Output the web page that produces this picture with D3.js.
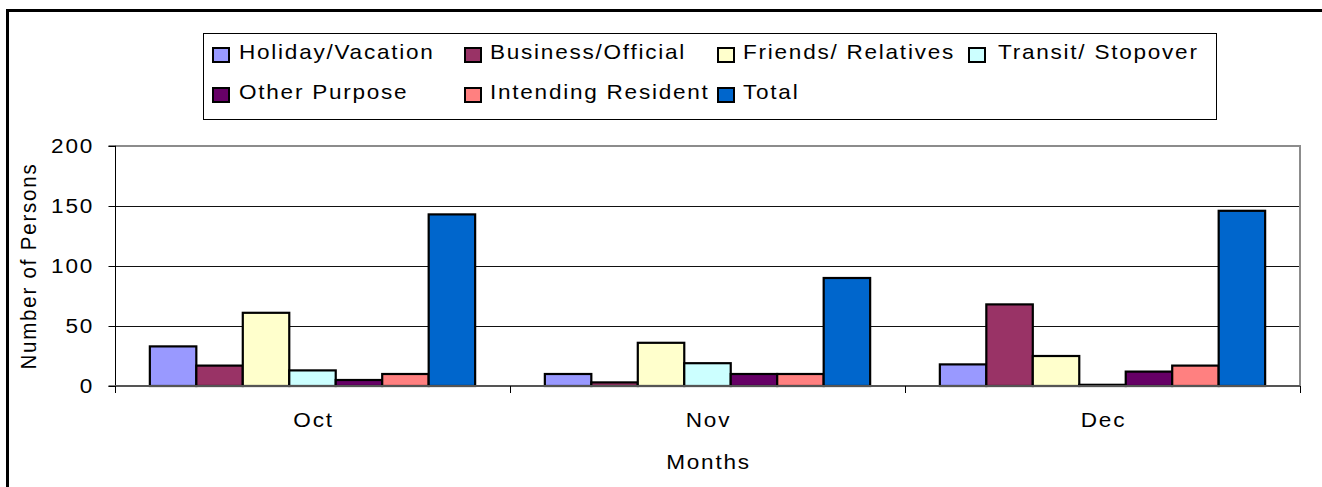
<!DOCTYPE html>
<html>
<head>
<meta charset="utf-8">
<script src="https://cdn.jsdelivr.net/npm/d3@7/dist/d3.min.js"></script>
<style>
  html, body { margin: 0; padding: 0; background: #fff; }
  svg { display: block; }
  text { font-family: "Liberation Sans", Arial, sans-serif; fill: #000; }
</style>
</head>
<body>
<svg id="chart" width="1322" height="487"></svg>
<script>
// ---- data ----
const months = ["Oct", "Nov", "Dec"];
const seriesNames = ["Holiday/Vacation", "Business/Official", "Friends/ Relatives", "Transit/ Stopover", "Other Purpose", "Intending Resident", "Total"];
const holiday   = [33, 10, 18];
const business  = [17, 3, 68];
const friends   = [61, 36, 25];
const transit   = [13, 19, 1];
const other     = [5, 10, 12];
const intending = [10, 10, 17];
const total     = [143, 90, 146];
const yTicks = [0, 50, 100, 150, 200];
const seriesColors = ["#9999FF", "#993366", "#FFFFCC", "#CCFFFF", "#660066", "#FF8080", "#0066CC"];

const seriesValues = [holiday, business, friends, transit, other, intending, total];

// ---- layout ----
const svg = d3.select("#chart");
const plot = { left: 115, right: 1300, top: 146, bottom: 386 };
const FS = 20.5, SX = 1.1, LS = 1.6;

function txt(g, s, x, y, anchor) {
  return g.append("text")
    .attr("transform", `translate(${x},${y}) scale(${SX},1)`)
    .attr("font-size", FS)
    .attr("letter-spacing", LS)
    .attr("text-anchor", anchor || "start")
    .text(s);
}

// outer frame
svg.append("rect")
  .attr("x", 7.5).attr("y", 10.5)
  .attr("width", 1400).attr("height", 600)
  .attr("fill", "none").attr("stroke", "#000").attr("stroke-width", 3);

const x0 = d3.scaleBand().domain(months).range([plot.left, plot.right]).paddingInner(0).paddingOuter(0);
const x1 = d3.scaleBand().domain(seriesNames).range([0, x0.bandwidth()]).paddingInner(0).paddingOuter(0.75);
const y = d3.scaleLinear().domain([0, 200]).range([plot.bottom, plot.top]);

// gridlines
svg.append("g").selectAll("line").data(yTicks.filter(d => d > 0 && d < 200)).join("line")
  .attr("x1", plot.left).attr("x2", plot.right)
  .attr("y1", d => y(d) + 0.5).attr("y2", d => y(d) + 0.5)
  .attr("stroke", "#111").attr("stroke-width", 1);

// plot area border (gray) top & right
svg.append("path")
  .attr("d", `M${plot.left},${y(200)}H${plot.right}V${plot.bottom}`)
  .attr("fill", "none").attr("stroke", "#8c8c8c").attr("stroke-width", 2);

// bars
const gBars = svg.append("g");
months.forEach((m, mi) => {
  seriesNames.forEach((s, si) => {
    const v = seriesValues[si][mi];
    gBars.append("rect")
      .attr("x", x0(m) + x1(s))
      .attr("y", y(v))
      .attr("width", x1.bandwidth())
      .attr("height", y(0) - y(v))
      .attr("fill", seriesColors[si])
      .attr("stroke", "#000")
      .attr("stroke-width", 2.2);
  });
});

// y axis
const yAxis = d3.axisLeft(y).tickValues(yTicks).tickSize(7).tickFormat("");
const gy = svg.append("g").attr("transform", `translate(${plot.left + 0.5},0)`).call(yAxis);
gy.selectAll("path,line").attr("stroke", "#000").attr("stroke-width", 1);
gy.select(".domain").attr("d", `M-7,${y(200)}H0V${y(0)}H-7`);
yTicks.forEach(t => txt(svg, String(t), 94, y(t) + 7, "end"));

// x axis: line + boundary ticks
svg.append("line").attr("x1", plot.left).attr("x2", plot.right)
  .attr("y1", plot.bottom).attr("y2", plot.bottom)
  .attr("stroke", "#555").attr("stroke-width", 2);
const bounds = months.map(m => x0(m)).concat([plot.right]);
svg.append("g").selectAll("line").data(bounds).join("line")
  .attr("x1", d => d + 0.5).attr("x2", d => d + 0.5)
  .attr("y1", plot.bottom).attr("y2", plot.bottom + 7)
  .attr("stroke", "#000").attr("stroke-width", 1);
months.forEach(m => txt(svg, m, x0(m) + x0.bandwidth() / 2 + 1, 427, "middle"));

// axis titles
txt(svg, "Months", (plot.left + plot.right) / 2 + 1, 469, "middle");
svg.append("text")
  .attr("transform", `translate(36,${(plot.top + plot.bottom) / 2}) rotate(-90) scale(1,${SX})`)
  .attr("font-size", FS).attr("letter-spacing", 1.8)
  .attr("text-anchor", "middle")
  .text("Number of Persons");

// legend
const leg = svg.append("g");
leg.append("rect").attr("x", 203.5).attr("y", 33.5).attr("width", 1013).attr("height", 86)
  .attr("fill", "#fff").attr("stroke", "#000").attr("stroke-width", 1);
const colX = [212, 464, 717, 968];
const textOff = [27, 26, 26, 30];
const rowBase = [59, 99];
seriesNames.forEach((s, i) => {
  const r = Math.floor(i / 4), c = i % 4;
  leg.append("rect")
    .attr("x", colX[c] + 1).attr("y", rowBase[r] - 11)
    .attr("width", 16).attr("height", 14)
    .attr("fill", seriesColors[i]).attr("stroke", "#000").attr("stroke-width", 2);
  txt(leg, s, colX[c] + textOff[c], rowBase[r], "start");
});
</script>
</body>
</html>
